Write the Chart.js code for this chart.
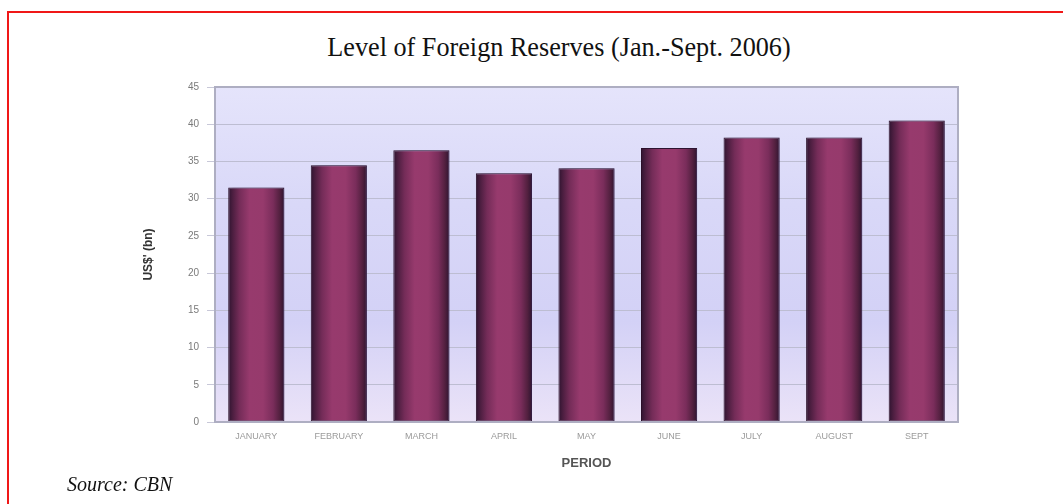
<!DOCTYPE html>
<html>
<head>
<meta charset="utf-8">
<script src="https://cdn.jsdelivr.net/npm/chart.js@4/dist/chart.umd.min.js"></script>
<style>
  html, body { margin: 0; padding: 0; background: #ffffff; }
  body { width: 1063px; height: 504px; position: relative; overflow: hidden; }
  #frame {
    position: absolute; left: 7px; top: 11px; width: 1100px; height: 600px;
    border-left: 2px solid #f01818; border-top: 2px solid #f01818;
  }
  #title {
    position: absolute; left: 0; top: 32px; width: 1118px; text-align: center;
    font-family: "Liberation Serif", "DejaVu Serif", serif; font-size: 27px; color: #111;
    transform: scaleX(0.97);
  }
  #source {
    position: absolute; left: 67px; top: 473px;
    font-family: "Liberation Serif", "DejaVu Serif", serif; font-style: italic;
    font-size: 20px; color: #111;
  }
  #wrap { position: absolute; left: 0; top: 0; width: 1063px; height: 504px; }
</style>
</head>
<body>
<div id="frame"></div>
<div id="title">Level of Foreign Reserves (Jan.-Sept. 2006)</div>
<div id="wrap"><canvas id="chart" width="1063" height="504"></canvas></div>
<div id="source">Source: CBN</div>
<script>
// Monthly external reserves, US$ billion
const months = ['JANUARY', 'FEBRUARY', 'MARCH', 'APRIL', 'MAY', 'JUNE', 'JULY', 'AUGUST', 'SEPT'];
const reserves = [31.5, 34.5, 36.5, 33.4, 34.1, 36.8, 38.2, 38.2, 40.5];
const yTicks = [0, 5, 10, 15, 20, 25, 30, 35, 40, 45];

const BAR_PCT = 0.68;

// lavender plot background with a grey frame
const plotBackground = {
  id: 'plotBackground',
  beforeDraw(chart) {
    const { ctx, chartArea: a } = chart;
    const g = ctx.createLinearGradient(0, a.top, 0, a.bottom);
    g.addColorStop(0, '#e5e4fb');
    g.addColorStop(0.35, '#d9d8f8');
    g.addColorStop(0.7, '#d3d1f6');
    g.addColorStop(1, '#ebe3f8');
    ctx.save();
    ctx.fillStyle = g;
    ctx.fillRect(a.left, a.top, a.right - a.left, a.bottom - a.top);
    ctx.restore();
  },
  afterDraw(chart) {
    const { ctx, chartArea: a } = chart;
    ctx.save();
    ctx.strokeStyle = '#aeaec2';
    ctx.lineWidth = 2;
    ctx.strokeRect(a.left, a.top, a.right - a.left, a.bottom - a.top);
    ctx.restore();
  }
};

// soft shadow to the right of each bar
const barShadow = {
  id: 'barShadow',
  beforeDatasetsDraw(chart) {
    const ctx = chart.ctx;
    ctx.save();
    ctx.shadowColor = 'rgba(70, 50, 110, 0.35)';
    ctx.shadowOffsetX = 4;
    ctx.shadowOffsetY = 0;
    ctx.shadowBlur = 3;
  },
  afterDatasetsDraw(chart) {
    chart.ctx.restore();
  }
};

function barFill(context) {
  const chart = context.chart;
  if (!chart.chartArea) return '#963a6c';
  const x = chart.scales.x;
  const center = x.getPixelForValue(context.dataIndex);
  const w = (x.width / months.length) * BAR_PCT;
  const g = chart.ctx.createLinearGradient(center - w / 2, 0, center + w / 2, 0);
  g.addColorStop(0, '#2e1430');
  g.addColorStop(0.08, '#4c1e40');
  g.addColorStop(0.2, '#742c58');
  g.addColorStop(0.38, '#973a6d');
  g.addColorStop(0.62, '#963a6c');
  g.addColorStop(0.8, '#7a2d5b');
  g.addColorStop(0.92, '#52203f');
  g.addColorStop(1, '#2e1430');
  return g;
}

new Chart(document.getElementById('chart'), {
  type: 'bar',
  data: {
    labels: months,
    datasets: [{
      data: reserves,
      backgroundColor: barFill,
      borderColor: '#2a1029',
      borderWidth: 1,
      borderSkipped: false,
      categoryPercentage: 1,
      barPercentage: BAR_PCT
    }]
  },
  options: {
    responsive: false,
    animation: false,
    devicePixelRatio: 1,
    layout: { padding: { left: 130, right: 105, top: 87, bottom: 22 } },
    plugins: {
      legend: { display: false },
      tooltip: { enabled: false }
    },
    scales: {
      x: {
        afterFit(scale) { scale.height = 60; },
        grid: { display: false, drawTicks: false },
        border: { display: false },
        ticks: {
          color: '#9a9a9a',
          font: { family: 'Liberation Sans', size: 9 },
          padding: 9,
          maxRotation: 0,
          autoSkip: false
        },
        title: {
          display: true,
          text: 'PERIOD',
          color: '#555555',
          font: { family: 'Liberation Sans', size: 13, weight: 'bold' },
          padding: { top: 0, bottom: 11 }
        }
      },
      y: {
        min: 0,
        max: 45,
        afterFit(scale) { scale.width = 85; },
        afterBuildTicks(scale) { scale.ticks = yTicks.map(v => ({ value: v })); },
        grid: {
          color: '#bdbdd2',
          lineWidth: 1,
          tickLength: 8,
          tickColor: '#c8c8d8'
        },
        border: { display: true, color: '#9c9cb2', width: 2 },
        ticks: {
          color: '#7a7a7a',
          font: { family: 'Liberation Sans', size: 10 },
          padding: 8
        },
        title: {
          display: true,
          text: "US$' (bn)",
          color: '#333333',
          font: { family: 'Liberation Sans', size: 12, weight: 'bold' },
          padding: { top: 11, bottom: 0 }
        }
      }
    }
  },
  plugins: [plotBackground, barShadow]
});
</script>
</body>
</html>
